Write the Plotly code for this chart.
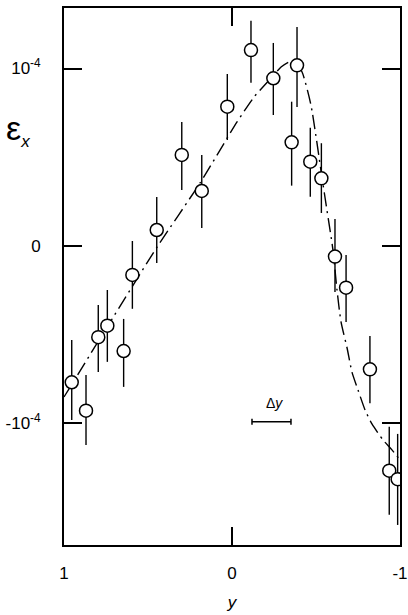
import plotly.graph_objects as go

# ---- data (y-values in units of 1e-4) ----
x_pts = [0.954, 0.869, 0.796, 0.742, 0.645, 0.593, 0.448, 0.299, 0.180, 0.028,
         -0.113, -0.246, -0.387, -0.355, -0.466, -0.532, -0.613, -0.679, -0.821, -0.936, -0.986]
eps_pts = [-0.768, -0.928, -0.514, -0.449, -0.592, -0.163, 0.090, 0.513, 0.310, 0.785,
           1.104, 0.945, 1.018, 0.584, 0.475, 0.381, -0.060, -0.235, -0.695, -1.266, -1.314]
err_up = [0.238, 0.201, 0.182, 0.201, 0.181, 0.191, 0.186, 0.186, 0.203, 0.184,
          0.165, 0.199, 0.216, 0.229, 0.191, 0.198, 0.212, 0.184, 0.188, 0.248, 0.255]
err_down = [0.212, 0.193, 0.196, 0.204, 0.202, 0.191, 0.186, 0.198, 0.209, 0.188,
            0.184, 0.207, 0.235, 0.244, 0.197, 0.195, 0.200, 0.193, 0.191, 0.249, 0.258]

curve_x = [1.0, 0.786, 0.446, 0.190, -0.030, -0.131, -0.232, -0.292, -0.339, -0.375,
           -0.417, -0.470, -0.536, -0.565, -0.601, -0.625, -0.649, -0.685, -0.714,
           -0.750, -0.792, -0.833, -0.899, -0.952, -1.0]
curve_y = [-0.851, -0.522, -0.006, 0.355, 0.699, 0.839, 0.946, 1.008, 1.037, 1.037,
           0.980, 0.794, 0.383, 0.203, -0.023, -0.248, -0.428, -0.575, -0.710,
           -0.811, -0.924, -1.003, -1.093, -1.149, -1.206]

dy_center = -0.235
dy_half = 0.116
dy_level = -0.99

x_ticks = [1, 0, -1]
x_ticktext = ["1", "0", "-1"]
y_ticks = [1, 0, -1]
y_ticktext = ["10<sup>-4</sup>", "0", "-10<sup>-4</sup>"]

FONT = "Liberation Sans, Arial, sans-serif"

fig = go.Figure()

fig.add_trace(go.Scatter(
    x=curve_x, y=curve_y, mode="lines",
    line=dict(color="black", width=1.4, dash="14px,5px,2px,5px", shape="spline", smoothing=0.6),
    hoverinfo="skip", showlegend=False))

fig.add_trace(go.Scatter(
    x=x_pts, y=eps_pts, mode="markers",
    marker=dict(symbol="circle", size=13, color="white", line=dict(color="black", width=1.5)),
    error_y=dict(type="data", symmetric=False, array=err_up, arrayminus=err_down,
                 color="black", thickness=1.4, width=0),
    showlegend=False))

# delta-y resolution bar
fig.add_trace(go.Scatter(
    x=[dy_center], y=[dy_level], mode="markers",
    marker=dict(size=1, color="rgba(0,0,0,0)"),
    error_x=dict(type="data", array=[dy_half], color="black", thickness=1.5, width=3),
    showlegend=False, hoverinfo="skip"))

fig.add_annotation(x=dy_center, y=dy_level, xref="x", yref="y", xshift=3, yshift=19,
                   text="Δ<i>y</i>", showarrow=False,
                   font=dict(family=FONT, size=14, color="black"))

fig.add_annotation(x=-0.18, xref="paper", y=0.654, yref="y",
                   text="ε<sub><span style='font-size:17px'><i>x</i></span></sub>", showarrow=False,
                   font=dict(family=FONT, size=34, color="black"))

fig.update_xaxes(range=[1.0, -1.0], tickvals=x_ticks, ticktext=x_ticktext,
                 ticks="inside", ticklen=18, tickwidth=1.5, tickcolor="black",
                 showline=True, linecolor="black", linewidth=1.8, mirror="ticks",
                 showgrid=False, zeroline=False, automargin=False,
                 ticklabelstandoff=12,
                 tickfont=dict(family=FONT, size=17, color="black"),
                 title=dict(text="<i>y</i>", font=dict(family=FONT, size=17, color="black"), standoff=14))

fig.update_yaxes(range=[-1.685, 1.341], tickvals=y_ticks, ticktext=y_ticktext,
                 ticks="inside", ticklen=18, tickwidth=1.5, tickcolor="black",
                 showline=True, linecolor="black", linewidth=1.8, mirror="ticks",
                 showgrid=False, zeroline=False, automargin=False,
                 ticklabelstandoff=18,
                 tickfont=dict(family=FONT, size=17, color="black"))

fig.update_layout(width=408, height=615, margin=dict(l=64, r=8, t=8, b=70),
                  paper_bgcolor="white", plot_bgcolor="white")

fig.write_html("out.html")
